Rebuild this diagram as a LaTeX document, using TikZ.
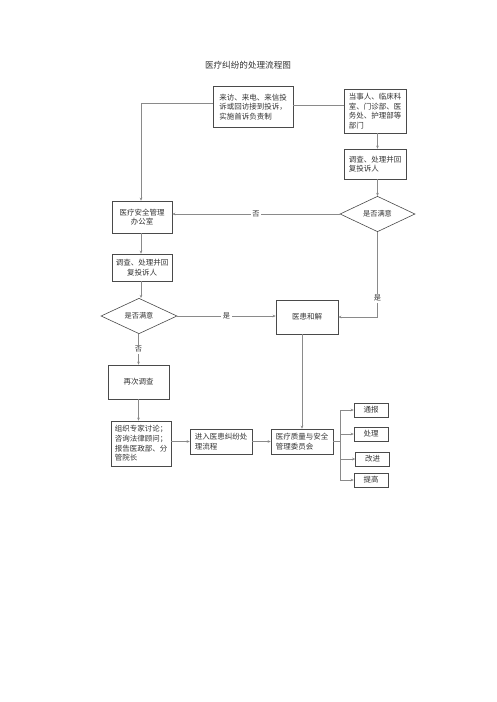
\documentclass[tikz,border=0pt]{standalone}
\usepackage{fontspec}
\setmainfont{Noto Sans CJK SC}
\usetikzlibrary{shapes.geometric,arrows.meta}
\definecolor{boxc}{HTML}{4A4A4A}
\definecolor{linec}{HTML}{8A8A8A}
\definecolor{txtc}{HTML}{333333}
\tikzset{
  box/.style={draw=boxc, line width=0.6pt, inner sep=0pt, text=txtc,
    font=\fontsize{7.5}{9.6}\selectfont},
  dia/.style={draw=boxc, line width=0.6pt, shape=diamond, inner sep=0pt, text=txtc,
    font=\fontsize{7.2}{9}\selectfont},
  conn/.style={draw=linec, line width=0.6pt},
  arr/.style={conn, -{Stealth[length=3pt,width=2.6pt]}},
  lbl/.style={fill=white, inner sep=1.5pt, text=txtc, font=\fontsize{7.2}{9}\selectfont},
}
\begin{document}
\begin{tikzpicture}[x=1pt,y=-1pt]
\useasboundingbox[fill=white] (0,0) rectangle (496,702);
\node[text=txtc, font=\fontsize{8.6}{10}\selectfont] (title) at (248,65) {医疗纠纷的处理流程图};
\node[box, minimum width=80, minimum height=41, align=left] (A) at (253,107) {来访、来电、来信投\\诉或回访接到投诉，\\实施首诉负责制};
\node[box, minimum width=62, minimum height=44, align=left] (B) at (375,111) {当事人、临床科\\室、门诊部、医\\务处、护理部等\\部门};
\node[box, minimum width=62, minimum height=30, align=left] (C) at (375,164) {调查、处理并回\\复投诉人};
\node[dia, minimum width=75, minimum height=31] (D1) at (377.5,214) {是否满意};
\node[box, minimum width=60, minimum height=32, align=center] (E) at (142,217) {医疗安全管理\\办公室};
\node[box, minimum width=60, minimum height=27, align=center] (F) at (142,267.5) {调查、处理并回\\复投诉人};
\node[dia, minimum width=76, minimum height=32] (D2) at (139,316) {是否满意};
\node[box, minimum width=62, minimum height=34] (G) at (307,317) {医患和解};
\node[box, minimum width=61, minimum height=34] (H) at (138.5,382) {再次调查};
\node[box, minimum width=60, minimum height=45, align=left] (I) at (141,443.5) {组织专家讨论；\\咨询法律顾问；\\报告医政部、分\\管院长};
\node[box, minimum width=62, minimum height=25, align=left] (J) at (221,441.5) {进入医患纠纷处\\理流程};
\node[box, minimum width=62, minimum height=25, align=left] (K) at (302,441.5) {医疗质量与安全\\管理委员会};
\node[box, minimum width=34, minimum height=14] (T1) at (371,410) {通报};
\node[box, minimum width=34, minimum height=14] (T2) at (371,434) {处理};
\node[box, minimum width=34, minimum height=14] (T3) at (372.5,459) {改进};
\node[box, minimum width=34, minimum height=14] (T4) at (371,480) {提高};
\coordinate (LA) at (141,103);
\coordinate (RG) at (377.5,317);
\coordinate (TR1) at (340,410);
\coordinate (TR4) at (340,480);
\coordinate (TRK) at (340,441.5);
% connectors
\draw[conn] (A.west |- LA) -- (LA);
\draw[arr] (LA) -- (LA |- E.north);
\draw[conn] (A.east |- 0,105) -- (B.west |- 0,105);
\draw[arr] (B.south -| D1) -- (C.north -| D1);
\draw[arr] (C.south -| D1) -- (D1.north);
\draw[arr] (D1.west) -- node[lbl] {否} (E.east |- D1.west);
\draw[arr] (E.south -| LA) -- (F.north -| LA);
\draw[arr] (F.south -| LA) -- (LA |- D2.north);
\draw[arr] (D2.east) -- node[lbl, pos=0.5] {是} (G.west |- D2.east);
\draw[arr] (D1.south) -- node[lbl, pos=0.78] {是} (RG) -- (G.east |- RG);
\draw[arr] (D2.south -| 138.5,0) -- node[lbl] {否} (H.north);
\draw[arr] (H.south) -- (I.north -| H.south);
\draw[arr] (I.east |- J.west) -- (J.west);
\draw[arr] (J.east) -- (K.west);
\draw[arr] (G.south -| K.north) -- (K.north);
\draw[conn] (K.east) -- (TRK);
\draw[conn] (TR1) -- (TR4);
\draw[arr] (TR1) -- (T1.west);
\draw[arr] (TR1 |- T2.west) -- (T2.west);
\draw[arr] (TR1 |- T3.west) -- (T3.west);
\draw[arr] (TR4) -- (T4.west);
\end{tikzpicture}
\end{document}
